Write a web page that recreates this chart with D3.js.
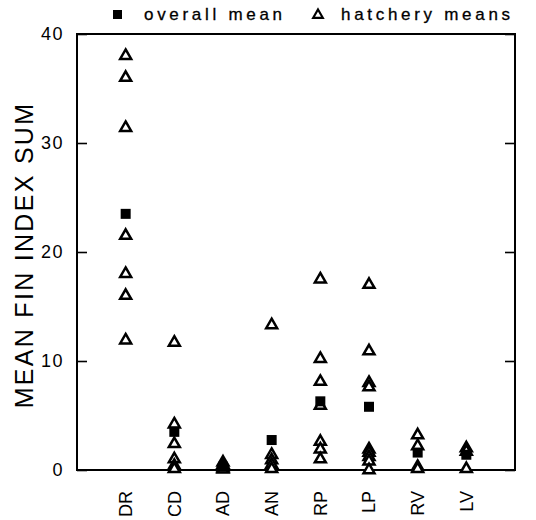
<!DOCTYPE html>
<html><head><meta charset="utf-8">
<script src="https://cdn.jsdelivr.net/npm/d3@7"></script>
<style>
body{margin:0;background:#fff;}
svg{display:block;font-family:"Liberation Sans",Arial,sans-serif;}
</style></head>
<body><svg id="chart" width="536" height="520"></svg>
<script>
const categories = ["DR","CD","AD","AN","RP","LP","RV","LV"];
const hatcheryMeans = [
  [38.0, 36.0, 31.4, 21.5, 18.0, 16.0, 11.9],
  [11.7, 4.2, 2.4, 1.0, 0.4, 0.1],
  [0.7, 0.5, 0.3, 0.15, 0.05],
  [13.3, 1.4, 0.9, 0.5, 0.1],
  [17.5, 10.2, 8.1, 5.9, 2.6, 1.9, 1.0],
  [17.0, 10.9, 8.0, 7.6, 1.9, 1.6, 1.2, 0.8, 0.0],
  [3.2, 2.2, 0.3, 0.1],
  [2.0, 1.7, 0.1]
];
const overallMeans = [23.5, 3.5, 0.3, 2.75, 6.3, 5.8, 1.6, 1.4];
const yTicks = [0, 10, 20, 30, 40];
const yLabel = "MEAN FIN INDEX SUM";
const legendLabels = ["overall mean", "hatchery means"];

const svg = d3.select("#chart");
const L = 77, R = 515, T = 34, B = 470;
const x = d3.scalePoint().domain(categories).range([L, R]).padding(1);
const y = d3.scaleLinear().domain([0, 40]).range([B, T]);

// left axis (ticks inward)
const gl = svg.append("g").attr("transform", `translate(${L},0)`)
  .call(d3.axisLeft(y).tickValues(yTicks).tickSize(-10).tickPadding(13).tickFormat(d3.format("d")));
gl.select(".domain").remove();
gl.selectAll(".tick line").attr("stroke", "#000").attr("stroke-width", 1.6);
gl.selectAll(".tick text").attr("fill", "#000").attr("font-size", 18)
  .attr("letter-spacing", 1.5).attr("font-family", "Liberation Sans, Arial, sans-serif");

// right axis (ticks inward, no labels)
const gr = svg.append("g").attr("transform", `translate(${R},0)`)
  .call(d3.axisRight(y).tickValues(yTicks).tickSize(-10).tickFormat(""));
gr.select(".domain").remove();
gr.selectAll(".tick line").attr("stroke", "#000").attr("stroke-width", 1.6);

// frame
svg.append("rect").attr("x", L).attr("y", T).attr("width", R - L).attr("height", B - T)
  .attr("fill", "none").attr("stroke", "#000").attr("stroke-width", 2);

// x labels (rotated)
svg.append("g").selectAll("text").data(categories).join("text")
  .attr("transform", d => `translate(${x(d)},491) rotate(-90)`)
  .attr("text-anchor", "end").attr("dy", "0.36em")
  .attr("font-size", 18).attr("fill", "#000").text(d => d);

// y label
svg.append("text").attr("transform", `translate(33,255) rotate(-90)`)
  .attr("text-anchor", "middle").attr("font-size", 25).attr("letter-spacing", 2.3)
  .attr("fill", "#000").text(yLabel);

// hatchery triangles
const tri = d3.symbol().type(d3.symbolTriangle).size(52);
const triData = [];
categories.forEach((c, i) => hatcheryMeans[i].forEach(v => triData.push({c, v})));
svg.append("g").selectAll("path").data(triData).join("path")
  .attr("transform", d => `translate(${x(d.c)},${y(d.v)})`)
  .attr("d", tri).attr("fill", "#fff").attr("stroke", "#000").attr("stroke-width", 2.5)
  .attr("stroke-linejoin", "miter");

// overall means (squares)
const sq = 10;
svg.append("g").selectAll("rect").data(categories).join("rect")
  .attr("x", d => x(d) - sq / 2).attr("y", (d, i) => y(overallMeans[i]) - sq / 2)
  .attr("width", sq).attr("height", sq).attr("fill", "#000");

// legend
const lg = svg.append("g");
lg.append("rect").attr("x", 113).attr("y", 10).attr("width", 9).attr("height", 9).attr("fill", "#000");
lg.append("text").attr("x", 144).attr("y", 20).attr("font-size", 17).attr("letter-spacing", 3.7)
  .attr("fill", "#000").attr("stroke", "#000").attr("stroke-width", 0.3).text(legendLabels[0]);
lg.append("path").attr("transform", "translate(318,15)")
  .attr("d", d3.symbol().type(d3.symbolTriangle).size(40))
  .attr("fill", "#fff").attr("stroke", "#000").attr("stroke-width", 2.2);
lg.append("text").attr("x", 341).attr("y", 20).attr("font-size", 17).attr("letter-spacing", 3.7)
  .attr("fill", "#000").attr("stroke", "#000").attr("stroke-width", 0.3).text(legendLabels[1]);
</script></body></html>
